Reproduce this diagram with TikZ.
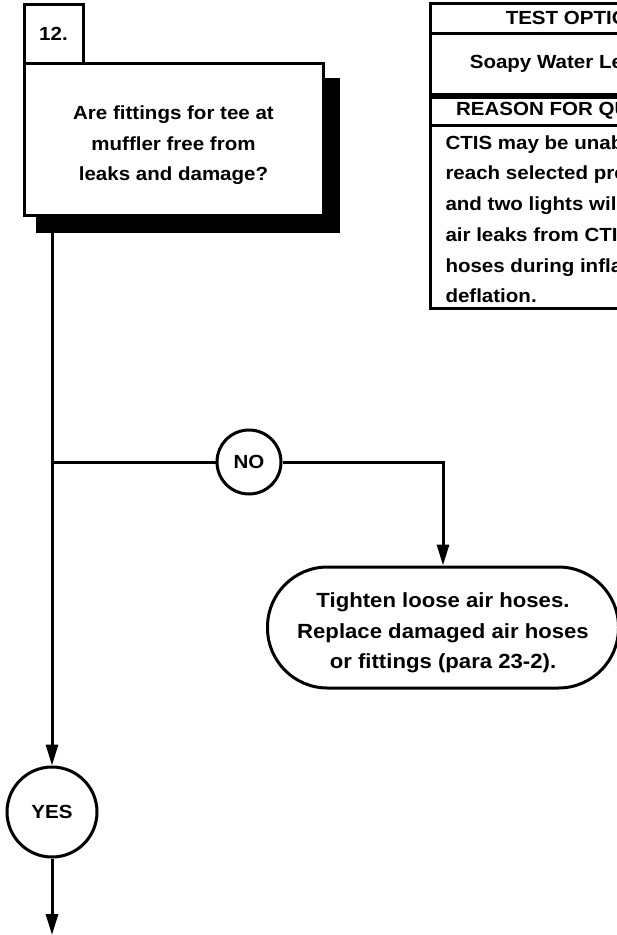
\documentclass[tikz,border=0pt]{standalone}
\usepackage{fontspec}
\setmainfont{Liberation Sans}[FakeStretch=1.08]
\usetikzlibrary{positioning,arrows.meta,calc}

\begin{document}
\begin{tikzpicture}[
  x=1pt, y=-1pt,
  line width=3pt,
  every node/.style={
    inner sep=0pt, align=center,
    font=\bfseries\fontsize{19}{30.5}\selectfont
  },
  numbox/.style={draw, fill=white, minimum width=59pt, minimum height=59pt},
  askbox/.style={draw, fill=white, minimum width=299pt, minimum height=152pt},
  answer/.style={draw, fill=white, circle},
  fixbox/.style={draw, fill=white, rounded corners=60pt,
    minimum width=351pt, minimum height=121pt,
    font=\bfseries\fontsize{20.5}{30.5}\selectfont},
  arr/.style={-{Triangle[length=21pt,width=12pt]}}
]
\useasboundingbox (0,0) rectangle (617,935);
\clip (0,0) rectangle (617,935);

% test options / reason panel
\draw (430,3) rectangle (732,94);
\draw (430,33) -- (732,33);
\draw (430,97) rectangle (732,308);
\draw (430,125) -- (732,125);
\node (opthead) at (581,18) {TEST OPTIONS};
\node (opt) at (581,64) {Soapy Water Leak Test};
\node (whyhead) at (581,111) {REASON FOR QUESTION};
\node (why) [anchor=north west, align=left,
  font=\bfseries\fontsize{19}{30.7}\selectfont] at (444,134)
  {CTIS may be unable\\reach selected pressure\\and two lights will\\air leaks from CTIS\\hoses during inflation\\deflation.};

% question box with shadow
\fill (36,78) rectangle (340,233);
\node (q) [askbox] at (173.5,139)
  {\rule{0pt}{27pt}Are fittings for tee at\\muffler free from\\leaks and damage?};
\node (num) [numbox] at (53.5,33.5) {12.};

\coordinate (stem) at (52,233);
\coordinate (split) at (52,462);
\coordinate (out) at (52,935);

\node (no) [answer, minimum size=64pt] at (249,462) {NO};
\node (fix) [fixbox] at (443,627.5)
  {\rule{0pt}{26pt}Tighten loose air hoses.\\Replace damaged air hoses\\or fittings (para 23-2).};
\node (yes) [answer, minimum size=90pt] at (52,812) {YES};

\draw[arr] (stem) -- (yes.north);
\draw (split) -- (no.west);
\draw[arr] (no.east) -| (fix.north);
\draw[arr] (yes.south) -- (out);

\end{tikzpicture}
\end{document}
